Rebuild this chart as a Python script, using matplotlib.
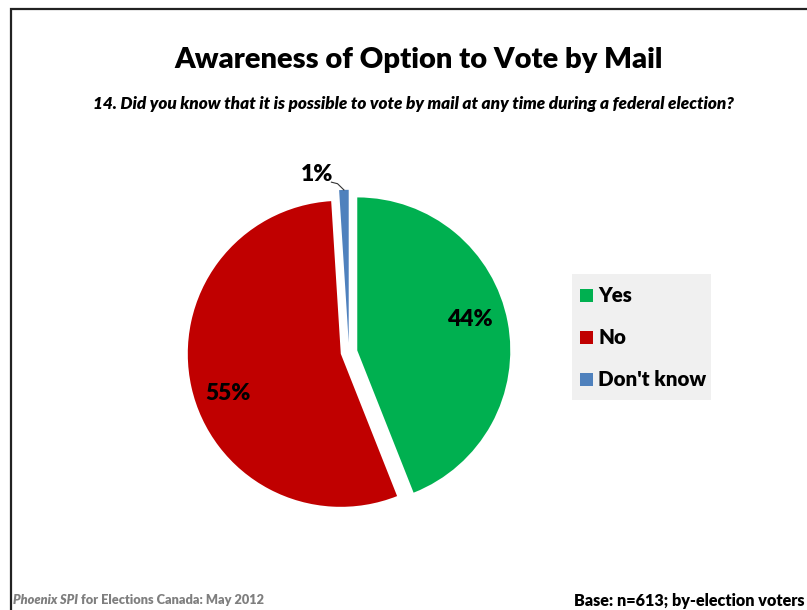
import matplotlib.pyplot as plt
import matplotlib.patches as mpatches
import numpy as np

plt.rcParams['font.family'] = ['Lato', 'DejaVu Sans']

categories = ['Yes', 'No', "Don't know"]
shares = [44, 55, 1]
colors = ['#00B050', '#C00000', '#4F81BD']

title = 'Awareness of Option to Vote by Mail'
question = '14. Did you know that it is possible to vote by mail at any time during a federal election?'

BOLD = 'heavy'


def main():
    W, H = 807, 610
    fig = plt.figure(figsize=(W / 100, H / 100), dpi=100)

    # outer frame, runs off the right and bottom edges
    frame = mpatches.Rectangle((10.5 / W, -0.05), 1.2, 1 - 8.5 / H + 0.05,
                               transform=fig.transFigure, fill=False,
                               lw=1.6, ec='#222222')
    fig.patches.append(frame)

    fig.text(419 / W, 1 - 60 / H, title, ha='center', va='center',
             fontsize=21, fontweight=BOLD)
    fig.text(413 / W, 1 - 104 / H, question, ha='center', va='center',
             fontsize=12.3, fontweight=BOLD, style='italic')

    # pie axes: 153 px per data unit, centred at (349, 352)
    scale = 153.0
    L = 1.2
    side = 2 * L * scale
    cx, cy = 349, H - 352
    ax = fig.add_axes([(cx - side / 2) / W, (cy - side / 2) / H, side / W, side / H])
    wedges, _ = ax.pie(shares, colors=colors, startangle=90, counterclock=False,
                       explode=[0.055, 0.055, 0.06],
                       wedgeprops=dict(linewidth=0))
    ax.set_xlim(-L, L)
    ax.set_ylim(-L, L)
    ax.set_aspect('equal')
    ax.axis('off')

    ax.text(0.79, 0.21, f'{shares[0]}%', ha='center', va='center',
            fontsize=16.5, fontweight=BOLD)
    ax.text(-0.79, -0.27, f'{shares[1]}%', ha='center', va='center',
            fontsize=16.5, fontweight=BOLD)

    # small slice label with a leader line to its outer edge
    w = wedges[2]
    mid = np.deg2rad((w.theta1 + w.theta2) / 2)
    r_out = 1 + 0.06
    tip = (r_out * np.cos(mid), r_out * np.sin(mid))
    ax.text(-0.21, 1.16, f'{shares[2]}%', ha='center', va='center',
            fontsize=16.5, fontweight=BOLD)
    ax.plot([-0.115, -0.075, tip[0]], [1.11, 1.10, tip[1]], color='#333333', lw=0.8,
            clip_on=False)

    # legend panel
    lx0, ly0, lx1, ly1 = 572, 274, 711, 400
    fig.patches.append(mpatches.Rectangle((lx0 / W, 1 - ly1 / H), (lx1 - lx0) / W,
                                          (ly1 - ly0) / H, transform=fig.transFigure,
                                          fc='#F0F0F0', ec='none'))
    for i, (lab, col) in enumerate(zip(categories, colors)):
        yy = 295 + 42 * i
        fig.patches.append(mpatches.Rectangle((580 / W, 1 - (yy + 6.5) / H), 13 / W, 13 / H,
                                              transform=fig.transFigure, fc=col, ec='none'))
        fig.text(598 / W, 1 - yy / H, lab, ha='left', va='center',
                 fontsize=14.8, fontweight=BOLD)

    # footer
    t = fig.text(13 / W, 1 - 600 / H, 'Phoenix SPI', ha='left', va='center',
                 fontsize=9.2, fontweight=BOLD, style='italic', color='#7F7F7F')
    fig.canvas.draw()
    bb = t.get_window_extent()
    fig.text(bb.x1 / W + 3 / W, 1 - 600 / H, 'for Elections Canada: May 2012',
             ha='left', va='center', fontsize=9.2, fontweight=BOLD, color='#7F7F7F')
    fig.text(805 / W, 1 - 601 / H, 'Base: n=613; by-election voters', ha='right',
             va='center', fontsize=11.6, fontweight=BOLD)

    fig.savefig('out.png', dpi=100)


if __name__ == '__main__':
    main()
